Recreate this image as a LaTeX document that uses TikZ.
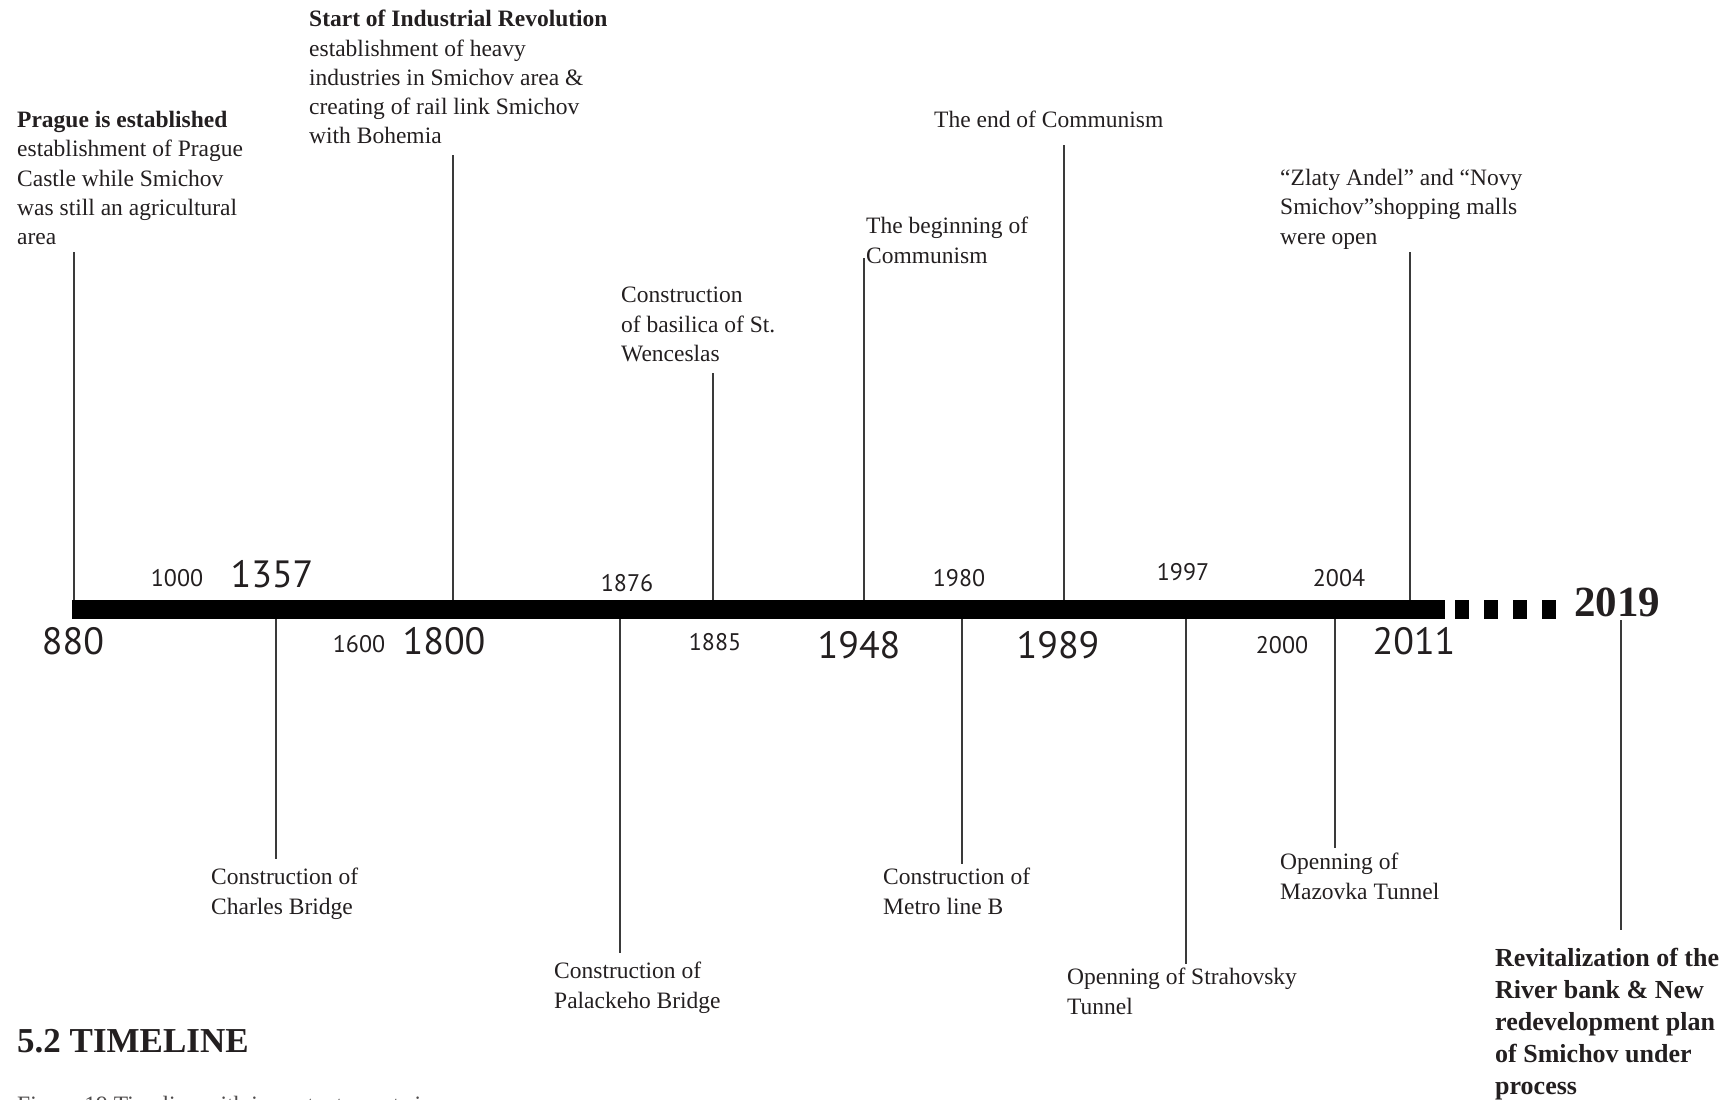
\documentclass[tikz,border=0pt]{standalone}
\usepackage{fontspec}
\setmainfont{Liberation Serif}
\newfontfamily\yearfont{PT Sans}
\definecolor{txt}{HTML}{231F20}
\definecolor{stemgray}{HTML}{3A3A3A}
\newcommand{\evtfont}{\fontsize{23.5}{29.3}\selectfont}
\tikzset{
  event/.style={anchor=north west, inner sep=0pt, align=left, font=\evtfont, text=txt},
  yearbig/.style={inner sep=0pt, text=txt, font=\yearfont\fontsize{38}{38}\selectfont},
  yearsmall/.style={inner sep=0pt, text=txt, font=\yearfont\fontsize{24}{24}\selectfont},
  stem/.style={draw=stemgray, line width=2pt}
}
\begin{document}
\begin{tikzpicture}[x=1pt,y=-1pt]
  \useasboundingbox (0,0) rectangle (1733,1100);
  % main bar and the dashed part up to 2019
  \fill[black] (72,600) rectangle (1445,619);
  \foreach \i in {0,...,3}
    \fill[black] (1455+29*\i,600) rectangle (1469+29*\i,619);
  % stems above the bar
  \foreach \yr/\x/\top in {880/73.5/252,1800/453/155,1885/713/373,1948/864/258,1989/1064/145,2011/1410/252}{
    \coordinate (b\yr) at (\x,600);
    \coordinate (e\yr) at (\x,\top);
    \draw[stem] (b\yr) -- (e\yr);
  }
  % stems below the bar
  \foreach \yr/\x/\bot in {1357/276/859,1876/620/953,1980/962/864,1997/1186/964,2004/1335/848}{
    \coordinate (b\yr) at (\x,619);
    \coordinate (e\yr) at (\x,\bot);
    \draw[stem] (b\yr) -- (e\yr);
  }
  \coordinate (b2019) at (1621,620);
  \coordinate (e2019) at (1621,930);
  \draw[stem] (b2019) -- (e2019);
  % years
  \foreach \yr/\x/\y in {880/73/641,1357/272/574,1800/444/641,1948/859/645,1989/1058/645,2011/1414/641}
    \node[yearbig] (y\yr) at (\x,\y) {\yr};
  \foreach \yr/\x/\y in {1000/177/578,1600/359/644,1876/627/583,1885/715/642,1980/959/578,1997/1183/572,2000/1282/645,2004/1339/578}
    \node[yearsmall] (y\yr) at (\x,\y) {\yr};
  \node[inner sep=0pt, text=txt, font=\bfseries\fontsize{43}{43}\selectfont] (y2019) at (1617,602) {2019};
  % events above
  \node[event] (prague) at (17,111) {\textbf{Prague is established}\\establishment of Prague\\Castle while Smichov\\was still an agricultural\\area};
  \node[event] (industry) at (309,10) {\textbf{Start of Industrial Revolution}\\establishment of heavy\\industries in Smichov area \&\\creating of rail link Smichov\\with Bohemia};
  \node[event] (basilica) at (621,287) {Construction\\of basilica of St.\\Wenceslas};
  \node[event] (commstart) at (866,217) {The beginning of\\Communism};
  \node[event] (commend) at (934,111) {The end of Communism};
  \node[event] (malls) at (1280,169) {“Zlaty Andel” and “Novy\\Smichov”shopping malls\\were open};
  % events below
  \node[event] (charles) at (211,868) {Construction of\\Charles Bridge};
  \node[event] (palacky) at (554,962) {Construction of\\Palackeho Bridge};
  \node[event] (metro) at (883,868) {Construction of\\Metro line B};
  \node[event] (strahov) at (1067,968) {Openning of Strahovsky\\Tunnel};
  \node[event] (mazovka) at (1280,853) {Openning of\\Mazovka Tunnel};
  \node[event, font=\bfseries\fontsize{26}{32}\selectfont] (revital) at (1495,948) {Revitalization of the\\River bank \& New\\redevelopment plan\\of Smichov under\\process};
  % heading and caption
  \node[anchor=west, inner sep=0pt, text=txt, font=\bfseries\fontsize{35}{35}\selectfont] (title) at (17,1041) {5.2 TIMELINE};
  \begin{scope}
    \clip (0,0) rectangle (1733,1100);
    \node[event, text=txt!80] (caption) at (17,1096) {Figure 19 Timeline with important events in};
  \end{scope}
\end{tikzpicture}
\end{document}
